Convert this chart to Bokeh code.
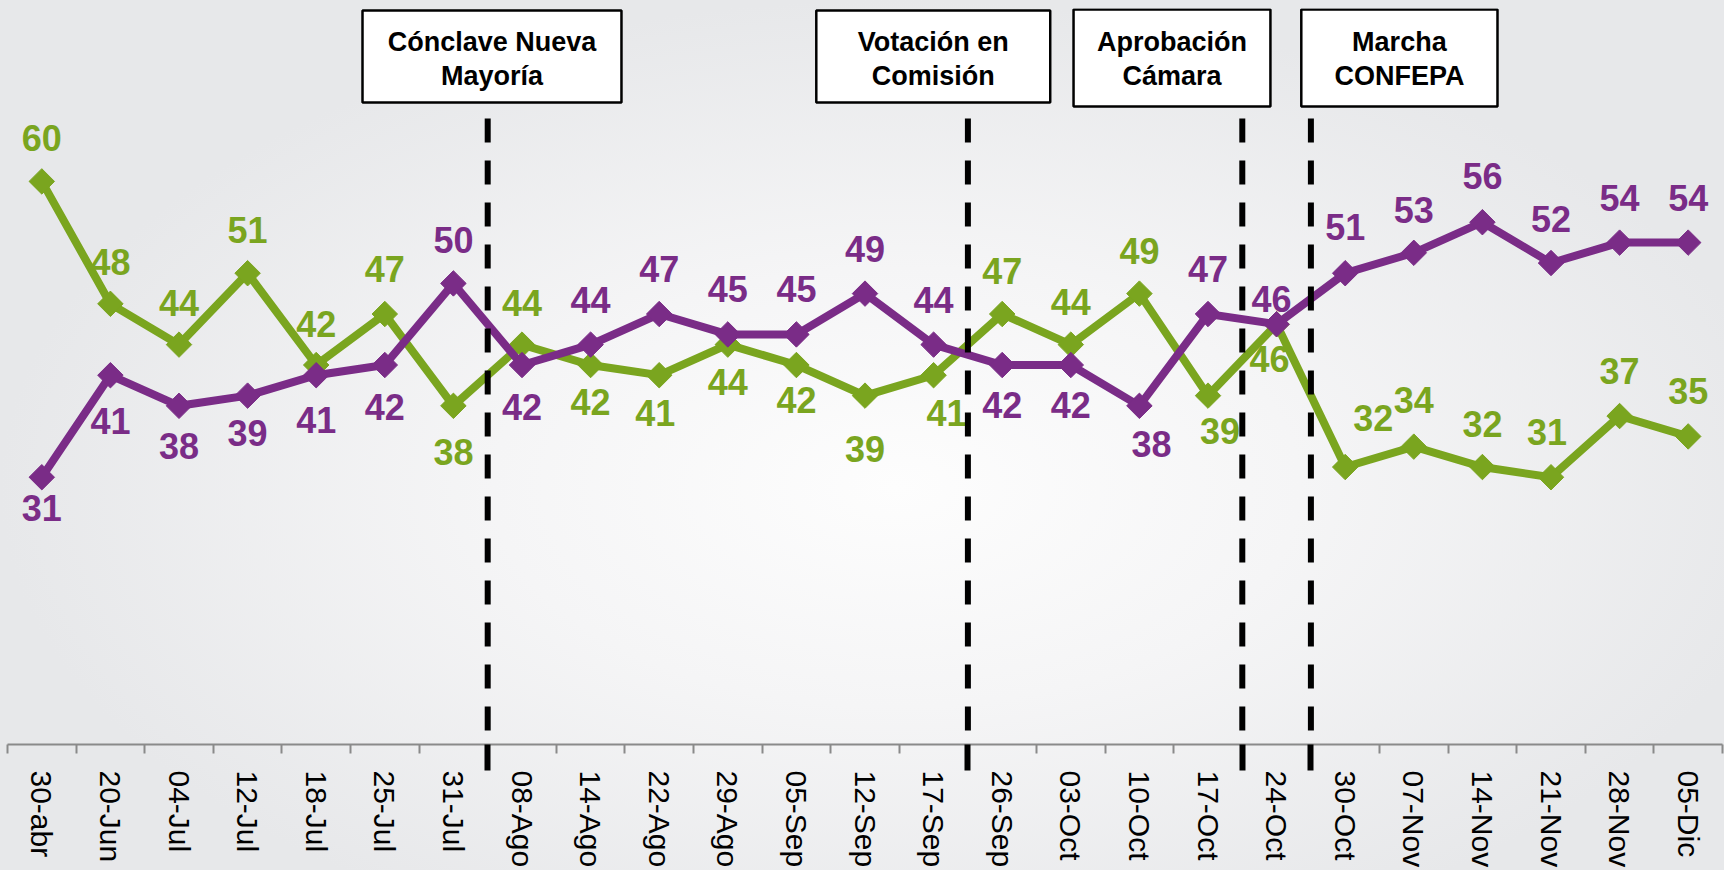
import math
from bokeh.plotting import figure
from bokeh.models import FixedTicker, Range1d, Arrow, ColumnDataSource, LinearAxis
from bokeh.core.properties import value
from bokeh.embed import file_html
from bokeh.resources import INLINE

# ---------------- data ----------------
dates = ["30-abr", "20-Jun", "04-Jul", "12-Jul", "18-Jul", "25-Jul", "31-Jul",
         "08-Ago", "14-Ago", "22-Ago", "29-Ago", "05-Sep", "12-Sep", "17-Sep",
         "26-Sep", "03-Oct", "10-Oct", "17-Oct", "24-Oct", "30-Oct", "07-Nov",
         "14-Nov", "21-Nov", "28-Nov", "05-Dic"]
green = [60, 48, 44, 51, 42, 47, 38, 44, 42, 41, 44, 42, 39, 41, 47, 44, 49, 39,
         46, 32, 34, 32, 31, 37, 35]
purple = [31, 41, 38, 39, 41, 42, 50, 42, 44, 47, 45, 45, 49, 44, 42, 42, 38, 47,
          46, 51, 53, 56, 52, 54, 54]
events = ["Cónclave Nueva\nMayoría", "Votación en\nComisión",
          "Aprobación\nCámara", "Marcha\nCONFEPA"]
event_after = ["31-Jul", "17-Sep", "17-Oct", "24-Oct"]   # event line falls after this date

# ---------------- layout / style ----------------
GREEN = "#7AA51F"
PURPLE = "#7A2C87"
AXIS_GREY = "#8a8a8a"
green_dy = [-43, -42, -42, -43, -41, -45, 46, -42, 37, 38, 37, 35, 53, 38, -43, -43,
            -43, 35, 35, -49, -47, -43, -45, -45, -45]
green_dx = [0, 0, 0, 0, 0, 0, 0, 0, 0, -4, 0, 0, 0, 13, 0, 0, 0, 12, -7, 28, 0, 0, -4, 0, 0]
purple_dy = [31, 46, 40, 37, 45, 42, -43, 42, -45, -45, -45, -45, -45, -45, 40, 40, 38,
             -45, -25, -46, -43, -46, -44, -45, -45]
purple_dx = [0] * 16 + [12, 0, -5] + [0] * 6

# event boxes (x in category units, y in value units)
box_left = [4.675, 11.29, 15.04, 18.36]
box_right = [8.45, 14.70, 17.91, 21.22]
box_top = [76.75, 76.75, 76.85, 76.85]
box_bottom = [67.73, 67.73, 67.34, 67.34]
box_text_y = [72.0, 72.0, 72.0, 72.0]
dash_top, dash_bottom = 66.16, 2.25

xs = list(range(len(dates)))
event_x = [dates.index(ev) + 0.5 for ev in event_after]
boundaries = [i - 0.5 for i in range(len(dates) + 1) if (i - 0.5) not in event_x]

p = figure(frame_width=1715, frame_height=736,
           x_range=Range1d(-0.5, len(dates) - 0.5), y_range=Range1d(4.8, 76.95),
           output_backend="svg", toolbar_location=None,
           min_border_left=7, min_border_right=2, min_border_top=8, min_border_bottom=0,
           background_fill_alpha=0, border_fill_alpha=0, outline_line_color=None,
           y_axis_location=None,
           styles={"background": "radial-gradient(ellipse farthest-side at 52% 56%, #fdfdfd 0%, #f5f5f6 45%, #e7e8ea 100%)"})
p.xgrid.visible = False
p.ygrid.visible = False

# axis next to the frame: grey line, grey boundary ticks, event-line continuation as black ticks
ax = p.xaxis[0]
ax.ticker = FixedTicker(ticks=event_x, minor_ticks=boundaries)
ax.major_label_overrides = {x: "" for x in event_x}
ax.major_label_text_font_size = "1px"
ax.major_label_standoff = 0
ax.major_tick_out = 26
ax.major_tick_in = 0
ax.major_tick_line_color = "black"
ax.major_tick_line_width = 6
ax.minor_tick_out = 9
ax.minor_tick_in = 0
ax.minor_tick_line_color = AXIS_GREY
ax.minor_tick_line_width = 2
ax.axis_line_color = AXIS_GREY
ax.axis_line_width = 2

# axis carrying the date labels
lab = LinearAxis(ticker=FixedTicker(ticks=xs, minor_ticks=[]),
                 major_label_overrides={i: d for i, d in enumerate(dates)},
                 axis_line_color=None, major_tick_line_color=None,
                 minor_tick_line_color=None, major_tick_out=0, major_tick_in=0,
                 minor_tick_out=0, minor_tick_in=0,
                 major_label_orientation="vertical", major_label_standoff=0,
                 major_label_text_font="Liberation Sans",
                 major_label_text_font_size="30px", major_label_text_color="#000000")
p.add_layout(lab, "below")

# series
for vals, col, dy, dx in ((green, GREEN, green_dy, green_dx),
                          (purple, PURPLE, purple_dy, purple_dx)):
    src = ColumnDataSource(dict(x=xs, y=vals, t=[str(v) for v in vals], dy=dy, dx=dx))
    p.line("x", "y", source=src, line_color=col, line_width=8, line_join="miter")
    p.scatter("x", "y", source=src, marker="square", angle=math.pi / 4, size=18,
              fill_color=col, line_color=col)
    p.text("x", "y", text="t", source=src, x_offset="dx", y_offset="dy",
           text_font=value("Liberation Sans"), text_font_style="bold",
           text_font_size="36px", text_color=col, text_align="center",
           text_baseline="middle")

# event boxes
p.quad(left=box_left, right=box_right, top=box_top, bottom=box_bottom,
       fill_color="white", line_color="black", line_width=2.5)
p.text(x=[(l + r) / 2 for l, r in zip(box_left, box_right)], y=box_text_y, text=events,
       text_font=value("Liberation Sans"), text_font_style="bold",
       text_font_size="27px", text_color="black", text_align="center",
       text_baseline="middle", text_line_height=1.12)

# event dashed lines
for xv in event_x:
    p.add_layout(Arrow(end=None, x_start=xv, y_start=dash_top, x_end=xv, y_end=dash_bottom,
                       line_color="black", line_width=6, line_dash="24 18"))

open("out.html", "w").write(file_html(p, INLINE))
